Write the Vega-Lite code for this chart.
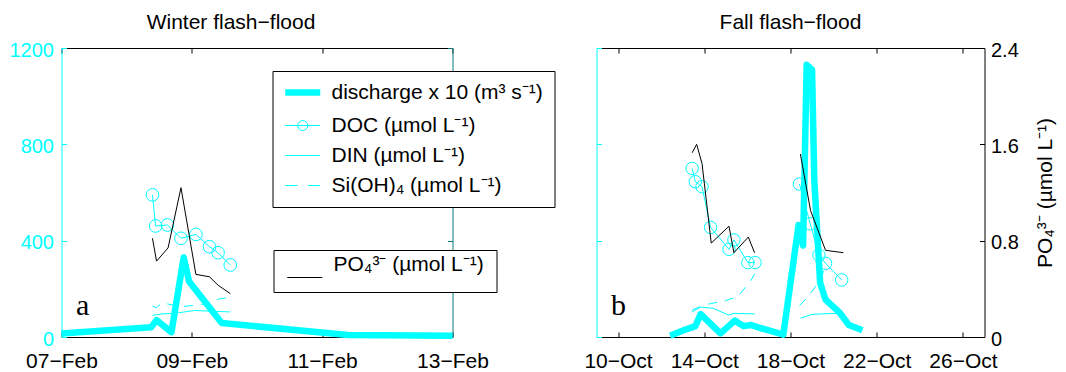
{
  "$schema": "https://vega.github.io/schema/vega-lite/v6.json",
  "padding": {"left": 8.5, "top": 12, "right": 5, "bottom": 5},
  "bounds": "flush",
  "spacing": 144,
  "config": {
    "font": "Liberation Sans",
    "view": {"stroke": null},
    "axis": {"grid": false, "labelFont": "Liberation Sans", "titleFont": "Liberation Sans", "domainWidth": 1, "tickWidth": 1, "titleFontWeight": "normal", "minExtent": 0},
    "title": {"font": "Liberation Sans", "fontSize": 21, "fontWeight": "normal", "color": "black", "frame": "group"},
    "legend": {"labelFont": "Liberation Sans"}
  },
  "datasets": {
    "d": [
      {"p":"W","s":"Q","g":1,"t":"2010-02-07T00:00","v":15},
      {"p":"W","s":"Q","g":1,"t":"2010-02-08T09:00","v":40},
      {"p":"W","s":"Q","g":1,"t":"2010-02-08T11:00","v":70},
      {"p":"W","s":"Q","g":1,"t":"2010-02-08T16:30","v":20},
      {"p":"W","s":"Q","g":1,"t":"2010-02-08T21:00","v":330},
      {"p":"W","s":"Q","g":1,"t":"2010-02-08T23:00","v":230},
      {"p":"W","s":"Q","g":1,"t":"2010-02-09T11:00","v":58},
      {"p":"W","s":"Q","g":1,"t":"2010-02-11T09:30","v":8},
      {"p":"W","s":"Q","g":1,"t":"2010-02-13T00:00","v":5},
      {"p":"W","s":"DOC","g":1,"t":"2010-02-08T09:30","v":590},
      {"p":"W","s":"DOC","g":1,"t":"2010-02-08T10:40","v":461},
      {"p":"W","s":"DOC","g":1,"t":"2010-02-08T15:00","v":465},
      {"p":"W","s":"DOC","g":1,"t":"2010-02-08T20:00","v":410},
      {"p":"W","s":"DOC","g":1,"t":"2010-02-09T01:30","v":426},
      {"p":"W","s":"DOC","g":1,"t":"2010-02-09T06:30","v":375},
      {"p":"W","s":"DOC","g":1,"t":"2010-02-09T09:40","v":350},
      {"p":"W","s":"DOC","g":1,"t":"2010-02-09T14:10","v":299},
      {"p":"W","s":"PO4","g":1,"t":"2010-02-08T09:30","v":0.82},
      {"p":"W","s":"PO4","g":1,"t":"2010-02-08T11:00","v":0.63},
      {"p":"W","s":"PO4","g":1,"t":"2010-02-08T15:15","v":0.74},
      {"p":"W","s":"PO4","g":1,"t":"2010-02-08T20:00","v":1.24},
      {"p":"W","s":"PO4","g":1,"t":"2010-02-09T01:30","v":0.52},
      {"p":"W","s":"PO4","g":1,"t":"2010-02-09T06:30","v":0.50},
      {"p":"W","s":"PO4","g":1,"t":"2010-02-09T09:40","v":0.43},
      {"p":"W","s":"PO4","g":1,"t":"2010-02-09T14:10","v":0.36},
      {"p":"W","s":"DIN","g":1,"t":"2010-02-08T09:30","v":90},
      {"p":"W","s":"DIN","g":1,"t":"2010-02-08T13:00","v":96},
      {"p":"W","s":"DIN","g":1,"t":"2010-02-08T17:30","v":98},
      {"p":"W","s":"DIN","g":1,"t":"2010-02-09T01:00","v":110},
      {"p":"W","s":"DIN","g":1,"t":"2010-02-09T09:40","v":106},
      {"p":"W","s":"DIN","g":1,"t":"2010-02-09T14:10","v":104},
      {"p":"W","s":"Si","g":1,"t":"2010-02-08T09:30","v":128},
      {"p":"W","s":"Si","g":1,"t":"2010-02-08T11:00","v":122},
      {"p":"W","s":"Si","g":1,"t":"2010-02-08T13:00","v":142},
      {"p":"W","s":"Si","g":1,"t":"2010-02-08T20:00","v":126},
      {"p":"W","s":"Si","g":1,"t":"2010-02-09T03:00","v":134},
      {"p":"W","s":"Si","g":1,"t":"2010-02-09T06:30","v":142},
      {"p":"W","s":"Si","g":1,"t":"2010-02-09T10:00","v":158},
      {"p":"W","s":"Si","g":1,"t":"2010-02-09T14:10","v":165},
      {"p":"F","s":"Q","g":1,"t":"2010-10-12T10:00","v":5},
      {"p":"F","s":"Q","g":1,"t":"2010-10-13T01:00","v":28},
      {"p":"F","s":"Q","g":1,"t":"2010-10-13T14:00","v":45},
      {"p":"F","s":"Q","g":1,"t":"2010-10-13T20:00","v":95},
      {"p":"F","s":"Q","g":1,"t":"2010-10-14T18:00","v":15},
      {"p":"F","s":"Q","g":1,"t":"2010-10-15T10:00","v":68},
      {"p":"F","s":"Q","g":1,"t":"2010-10-15T20:00","v":45},
      {"p":"F","s":"Q","g":1,"t":"2010-10-16T04:00","v":50},
      {"p":"F","s":"Q","g":1,"t":"2010-10-16T12:00","v":40},
      {"p":"F","s":"Q","g":1,"t":"2010-10-17T16:00","v":10},
      {"p":"F","s":"Q","g":1,"t":"2010-10-18T09:00","v":465},
      {"p":"F","s":"Q","g":1,"t":"2010-10-18T14:00","v":380},
      {"p":"F","s":"Q","g":1,"t":"2010-10-18T18:00","v":1130},
      {"p":"F","s":"Q","g":1,"t":"2010-10-19T00:00","v":1110},
      {"p":"F","s":"Q","g":1,"t":"2010-10-19T02:30","v":650},
      {"p":"F","s":"Q","g":1,"t":"2010-10-19T09:00","v":225},
      {"p":"F","s":"Q","g":1,"t":"2010-10-19T15:00","v":155},
      {"p":"F","s":"Q","g":1,"t":"2010-10-20T07:00","v":100},
      {"p":"F","s":"Q","g":1,"t":"2010-10-20T17:00","v":50},
      {"p":"F","s":"Q","g":1,"t":"2010-10-21T08:00","v":28},
      {"p":"F","s":"DOC","g":1,"t":"2010-10-13T10:30","v":700},
      {"p":"F","s":"DOC","g":1,"t":"2010-10-13T14:00","v":645},
      {"p":"F","s":"DOC","g":1,"t":"2010-10-13T21:30","v":624},
      {"p":"F","s":"DOC","g":1,"t":"2010-10-14T07:00","v":455},
      {"p":"F","s":"DOC","g":1,"t":"2010-10-15T03:30","v":364},
      {"p":"F","s":"DOC","g":1,"t":"2010-10-15T09:00","v":403},
      {"p":"F","s":"DOC","g":1,"t":"2010-10-16T00:30","v":309},
      {"p":"F","s":"DOC","g":1,"t":"2010-10-16T08:30","v":309},
      {"p":"F","s":"DOC","g":2,"t":"2010-10-18T10:00","v":635},
      {"p":"F","s":"DOC","g":2,"t":"2010-10-18T22:00","v":470},
      {"p":"F","s":"DOC","g":2,"t":"2010-10-19T07:40","v":340},
      {"p":"F","s":"DOC","g":2,"t":"2010-10-19T15:00","v":306},
      {"p":"F","s":"DOC","g":2,"t":"2010-10-20T09:00","v":237},
      {"p":"F","s":"PO4","g":1,"t":"2010-10-13T10:30","v":1.53},
      {"p":"F","s":"PO4","g":1,"t":"2010-10-13T15:30","v":1.60},
      {"p":"F","s":"PO4","g":1,"t":"2010-10-13T21:30","v":1.44},
      {"p":"F","s":"PO4","g":1,"t":"2010-10-14T07:45","v":0.78},
      {"p":"F","s":"PO4","g":1,"t":"2010-10-15T03:30","v":0.92},
      {"p":"F","s":"PO4","g":1,"t":"2010-10-15T09:00","v":0.70},
      {"p":"F","s":"PO4","g":1,"t":"2010-10-16T01:00","v":0.83},
      {"p":"F","s":"PO4","g":1,"t":"2010-10-16T08:00","v":0.70},
      {"p":"F","s":"PO4","g":2,"t":"2010-10-18T11:00","v":1.52},
      {"p":"F","s":"PO4","g":2,"t":"2010-10-18T22:20","v":1.05},
      {"p":"F","s":"PO4","g":2,"t":"2010-10-19T15:00","v":0.72},
      {"p":"F","s":"PO4","g":2,"t":"2010-10-20T10:50","v":0.70},
      {"p":"F","s":"DIN","g":1,"t":"2010-10-13T10:30","v":105},
      {"p":"F","s":"DIN","g":1,"t":"2010-10-13T20:00","v":124},
      {"p":"F","s":"DIN","g":1,"t":"2010-10-14T10:00","v":119},
      {"p":"F","s":"DIN","g":1,"t":"2010-10-15T03:00","v":91},
      {"p":"F","s":"DIN","g":1,"t":"2010-10-15T09:00","v":98},
      {"p":"F","s":"DIN","g":1,"t":"2010-10-16T08:00","v":96},
      {"p":"F","s":"DIN","g":2,"t":"2010-10-18T11:00","v":78},
      {"p":"F","s":"DIN","g":2,"t":"2010-10-19T00:00","v":94},
      {"p":"F","s":"DIN","g":2,"t":"2010-10-20T00:00","v":98},
      {"p":"F","s":"DIN","g":2,"t":"2010-10-20T08:00","v":96},
      {"p":"F","s":"Si","g":1,"t":"2010-10-13T10:30","v":112},
      {"p":"F","s":"Si","g":1,"t":"2010-10-13T20:00","v":127},
      {"p":"F","s":"Si","g":1,"t":"2010-10-14T08:00","v":140},
      {"p":"F","s":"Si","g":1,"t":"2010-10-14T20:00","v":146},
      {"p":"F","s":"Si","g":1,"t":"2010-10-15T14:00","v":170},
      {"p":"F","s":"Si","g":1,"t":"2010-10-16T04:00","v":235},
      {"p":"F","s":"Si","g":1,"t":"2010-10-16T08:00","v":262},
      {"p":"F","s":"Si","g":2,"t":"2010-10-18T10:00","v":130},
      {"p":"F","s":"Si","g":2,"t":"2010-10-18T20:00","v":170},
      {"p":"F","s":"Si","g":2,"t":"2010-10-19T07:00","v":225},
      {"p":"F","s":"Si","g":2,"t":"2010-10-19T15:00","v":290}
    ]
  },
  "hconcat": [
    {
      "width": 391,
      "height": 289,
      "title": {"text": "Winter flash−flood", "dx": -26, "offset": -10.4, "baseline": "alphabetic"},
      "data": {"name": "d"},
      "transform": [{"filter": "datum.p === 'W'"}],
      "resolve": {"scale": {"y": "independent", "color": "independent"}, "axis": {"x": "independent"}},
      "layer": [
        {
          "transform": [{"filter": "datum.s === 'Q'"}],
          "mark": {"type": "line", "strokeWidth": 6.5, "strokeJoin": "round"},
          "encoding": {
            "x": {"field": "t", "type": "temporal",
              "scale": {"domain": [{"year":2010,"month":2,"date":7},{"year":2010,"month":2,"date":13}]},
              "axis": {"orient": "bottom", "title": null, "values": [{"year":2010,"month":2,"date":7},{"year":2010,"month":2,"date":9},{"year":2010,"month":2,"date":11},{"year":2010,"month":2,"date":13}],
                "format": "%d−%b", "formatType": "time", "labelFlush": false, "labelOverlap": false,
                "domainColor": "black", "tickColor": "black", "labelColor": "black", "tickSize": -5, "labelPadding": 18, "labelFontSize": 21}},
            "y": {"field": "v", "type": "quantitative",
              "scale": {"domain": [0, 1200], "nice": false},
              "axis": {"orient": "left", "title": null, "values": [0, 400, 800, 1200], "format": "d",
                "domainColor": "#00ffff", "tickColor": "#00ffff", "labelColor": "#00ffff", "tickSize": -5, "labelPadding": 13, "labelFontSize": 20, "labelOffset": 2}},
            "color": {"field": "s", "type": "nominal",
              "scale": {"domain": ["Q", "DOC", "DIN", "Si"], "range": ["#00ffff", "#00ffff", "#00ffff", "#00ffff"]},
              "legend": {
                "orient": "none", "legendX": 211, "legendY": 23, "title": null, "direction": "vertical",
                "strokeColor": "black", "fillColor": "white", "padding": 11,
                "labelFontSize": 21, "labelColor": "black", "labelLimit": 400, "labelOffset": 27, "rowPadding": 8,
                "symbolSize": 306, "symbolStrokeWidth": 1,
                "labelExpr": "datum.value === 'Q' ? 'discharge x 10 (m³ s⁻¹)' : datum.value === 'DOC' ? 'DOC (µmol L⁻¹)' : datum.value === 'DIN' ? 'DIN (µmol L⁻¹)' : 'Si(OH)₄ (µmol L⁻¹)'",
                "encode": {"symbols": {"update": {
                  "shape": {"signal": "datum.value === 'DOC' ? 'M-1,0H3M1.57,0A0.57,0.57,0,1,1,0.43,0A0.57,0.57,0,1,1,1.57,0' : datum.value === 'Si' ? 'M-1,0H0.4M1.6,0H3' : 'M-1,0H3'"},
                  "strokeWidth": {"signal": "datum.value === 'Q' ? 6.5 : 1"},
                  "fill": {"value": "transparent"},
                  "stroke": {"value": "#00ffff"}
                }}}
              }}
          }
        },
        {
          "transform": [{"filter": "datum.s === 'DOC' || datum.s === 'DIN'"}],
          "mark": {"type": "line", "strokeWidth": 1, "color": "#00ffff"},
          "encoding": {
            "x": {"field": "t", "type": "temporal", "axis": null},
            "y": {"field": "v", "type": "quantitative", "scale": {"domain": [0, 1200], "nice": false}, "axis": null},
            "detail": [{"field": "s"}, {"field": "g"}]
          }
        },
        {
          "transform": [{"filter": "datum.s === 'Si'"}],
          "mark": {"type": "line", "strokeWidth": 1, "color": "#00ffff", "strokeDash": [9, 8]},
          "encoding": {
            "x": {"field": "t", "type": "temporal", "axis": null},
            "y": {"field": "v", "type": "quantitative", "scale": {"domain": [0, 1200], "nice": false}, "axis": null},
            "detail": {"field": "g"}
          }
        },
        {
          "transform": [{"filter": "datum.s === 'DOC'"}],
          "mark": {"type": "point", "shape": "circle", "filled": false, "size": 160, "strokeWidth": 1, "color": "#00ffff", "opacity": 1},
          "encoding": {
            "x": {"field": "t", "type": "temporal", "axis": null},
            "y": {"field": "v", "type": "quantitative", "scale": {"domain": [0, 1200], "nice": false}, "axis": null}
          }
        },
        {
          "data": {"values": [{"n": "a"}]},
          "mark": {"type": "text", "font": "Liberation Serif", "fontSize": 30, "align": "center", "baseline": "alphabetic", "color": "black"},
          "encoding": {
            "x": {"datum": {"year":2010,"month":2,"date":7,"hours":7,"minutes":45}, "type": "temporal", "axis": null},
            "y": {"datum": 91, "type": "quantitative", "scale": {"domain": [0, 1200], "nice": false}, "axis": null},
            "text": {"field": "n"}
          }
        },
        {
          "transform": [{"filter": "datum.s === 'PO4'"}],
          "mark": {"type": "line", "strokeWidth": 1},
          "encoding": {
            "x": {"field": "t", "type": "temporal",
              "axis": {"orient": "top", "title": null, "labels": false, "values": [{"year":2010,"month":2,"date":7},{"year":2010,"month":2,"date":9},{"year":2010,"month":2,"date":11},{"year":2010,"month":2,"date":13}],
                "domainColor": "black", "tickColor": "black", "tickSize": -5}},
            "y": {"field": "v", "type": "quantitative",
              "scale": {"domain": [0, 2.4], "nice": false},
              "axis": {"orient": "right", "title": null, "labels": false, "values": [0, 0.8, 1.6, 2.4],
                "domainColor": "#0a7a7a", "tickColor": "#0a7a7a", "tickSize": -5}},
            "color": {"field": "s", "type": "nominal",
              "scale": {"domain": ["PO4"], "range": ["black"]},
              "legend": {
                "orient": "none", "legendX": 212, "legendY": 202, "title": " ", "titleOrient": "top", "titleFontSize": 5, "titlePadding": 0,
                "strokeColor": "black", "fillColor": "white", "padding": 12,
                "labelFontSize": 21, "labelColor": "black", "labelLimit": 400, "labelOffset": 27,
                "symbolSize": 306, "symbolStrokeWidth": 1,
                "labelExpr": "'PO₄³⁻ (µmol L⁻¹)'",
                "encode": {
                  "symbols": {"update": {"shape": {"value": "M-1,0H3"}, "strokeWidth": {"value": 1}, "fill": {"value": "transparent"}, "stroke": {"value": "black"}}},
                  "labels": {"update": {"dy": {"value": -13}}}
                }
              }},
            "detail": {"field": "g"}
          }
        }
      ]
    },
    {
      "width": 388,
      "height": 289,
      "title": {"text": "Fall flash−flood", "offset": -10.4, "baseline": "alphabetic"},
      "data": {"name": "d"},
      "transform": [{"filter": "datum.p === 'F'"}],
      "resolve": {"scale": {"y": "independent"}, "axis": {"x": "independent"}},
      "layer": [
        {
          "transform": [{"filter": "datum.s === 'Q'"}],
          "mark": {"type": "line", "strokeWidth": 6.5, "strokeJoin": "round", "color": "#00ffff"},
          "encoding": {
            "x": {"field": "t", "type": "temporal",
              "scale": {"domain": [{"year":2010,"month":10,"date":9},{"year":2010,"month":10,"date":27}]},
              "axis": {"orient": "bottom", "title": null, "values": [{"year":2010,"month":10,"date":10},{"year":2010,"month":10,"date":14},{"year":2010,"month":10,"date":18},{"year":2010,"month":10,"date":22},{"year":2010,"month":10,"date":26}],
                "format": "%d−%b", "formatType": "time", "labelFlush": false, "labelOverlap": false,
                "domainColor": "black", "tickColor": "black", "labelColor": "black", "tickSize": -5, "labelPadding": 18, "labelFontSize": 21}},
            "y": {"field": "v", "type": "quantitative",
              "scale": {"domain": [0, 1200], "nice": false},
              "axis": {"orient": "left", "title": null, "labels": false, "values": [0, 400, 800, 1200],
                "domainColor": "#00ffff", "tickColor": "#00ffff", "tickSize": -5}}
          }
        },
        {
          "transform": [{"filter": "datum.s === 'DOC' || datum.s === 'DIN'"}],
          "mark": {"type": "line", "strokeWidth": 1, "color": "#00ffff"},
          "encoding": {
            "x": {"field": "t", "type": "temporal", "axis": null},
            "y": {"field": "v", "type": "quantitative", "scale": {"domain": [0, 1200], "nice": false}, "axis": null},
            "detail": [{"field": "s"}, {"field": "g"}]
          }
        },
        {
          "transform": [{"filter": "datum.s === 'Si'"}],
          "mark": {"type": "line", "strokeWidth": 1, "color": "#00ffff", "strokeDash": [9, 8]},
          "encoding": {
            "x": {"field": "t", "type": "temporal", "axis": null},
            "y": {"field": "v", "type": "quantitative", "scale": {"domain": [0, 1200], "nice": false}, "axis": null},
            "detail": {"field": "g"}
          }
        },
        {
          "transform": [{"filter": "datum.s === 'DOC'"}],
          "mark": {"type": "point", "shape": "circle", "filled": false, "size": 155, "strokeWidth": 1, "color": "#00ffff", "opacity": 1},
          "encoding": {
            "x": {"field": "t", "type": "temporal", "axis": null},
            "y": {"field": "v", "type": "quantitative", "scale": {"domain": [0, 1200], "nice": false}, "axis": null}
          }
        },
        {
          "data": {"values": [{"n": "b"}]},
          "mark": {"type": "text", "font": "Liberation Serif", "fontSize": 30, "align": "center", "baseline": "alphabetic", "color": "black"},
          "encoding": {
            "x": {"datum": {"year":2010,"month":10,"date":10,"hours":0,"minutes":30}, "type": "temporal", "axis": null},
            "y": {"datum": 91, "type": "quantitative", "scale": {"domain": [0, 1200], "nice": false}, "axis": null},
            "text": {"field": "n"}
          }
        },
        {
          "transform": [{"filter": "datum.s === 'PO4'"}],
          "mark": {"type": "line", "strokeWidth": 1, "color": "black"},
          "encoding": {
            "x": {"field": "t", "type": "temporal",
              "axis": {"orient": "top", "title": null, "labels": false, "values": [{"year":2010,"month":10,"date":10},{"year":2010,"month":10,"date":14},{"year":2010,"month":10,"date":18},{"year":2010,"month":10,"date":22},{"year":2010,"month":10,"date":26}],
                "domainColor": "black", "tickColor": "black", "tickSize": -5}},
            "y": {"field": "v", "type": "quantitative",
              "scale": {"domain": [0, 2.4], "nice": false},
              "axis": {"orient": "right", "values": [0, 0.8, 1.6, 2.4], "format": "~g",
                "domainColor": "black", "tickColor": "black", "labelColor": "black", "tickSize": -5, "labelPadding": 11, "labelFontSize": 20, "labelOffset": 2,
                "title": "PO₄³⁻ (µmol L⁻¹)", "titleAngle": 270, "titleBaseline": "top", "titleFontSize": 21, "titleColor": "black", "titlePadding": 16}},
            "detail": {"field": "g"}
          }
        }
      ]
    }
  ]
}
